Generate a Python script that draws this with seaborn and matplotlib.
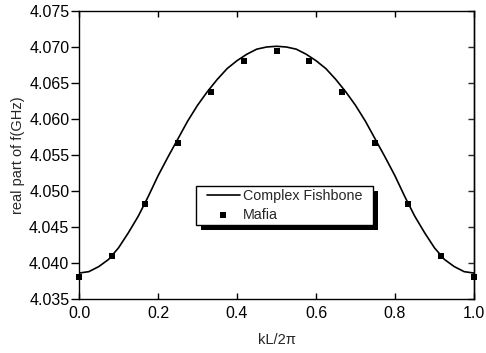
import matplotlib
matplotlib.use("Agg")
import matplotlib.pyplot as plt
import seaborn as sns
import pandas as pd
from matplotlib.patches import Rectangle

# Curve (Complex Fishbone)
curve_x = [0.000, 0.025, 0.050, 0.075, 0.100, 0.125, 0.150, 0.175, 0.200, 0.225,
           0.250, 0.275, 0.300, 0.325, 0.350, 0.375, 0.400, 0.425, 0.450, 0.475,
           0.500,
           0.525, 0.550, 0.575, 0.600, 0.625, 0.650, 0.675, 0.700, 0.725, 0.750,
           0.775, 0.800, 0.825, 0.850, 0.875, 0.900, 0.925, 0.950, 0.975, 1.000]
curve_y = [4.0386, 4.0388, 4.0395, 4.0405, 4.0421, 4.0442, 4.0465, 4.0492, 4.0521, 4.0547,
           4.0572, 4.0597, 4.0619, 4.0638, 4.0655, 4.0670, 4.0681, 4.0690, 4.0697, 4.0700,
           4.0701,
           4.0700, 4.0697, 4.0690, 4.0681, 4.0670, 4.0655, 4.0638, 4.0619, 4.0597, 4.0572,
           4.0547, 4.0521, 4.0492, 4.0465, 4.0442, 4.0421, 4.0405, 4.0395, 4.0388, 4.0386]

# Mafia points
mafia_x = [0.0, 1/12, 2/12, 3/12, 4/12, 5/12, 6/12, 7/12, 8/12, 9/12, 10/12, 11/12, 1.0]
mafia_y = [4.0380, 4.0410, 4.0482, 4.0567, 4.0637, 4.0680, 4.0695,
           4.0680, 4.0637, 4.0567, 4.0482, 4.0410, 4.0380]

x_ticks = [0.0, 0.2, 0.4, 0.6, 0.8, 1.0]
y_ticks = [4.035, 4.040, 4.045, 4.050, 4.055, 4.060, 4.065, 4.070, 4.075]

sns.set_style("ticks")
plt.rcParams['font.family'] = ['Liberation Sans', 'DejaVu Sans']

fig = plt.figure(figsize=(4.86, 3.53), dpi=100)
ax = fig.add_axes([79/486, 1 - 299/353, 395/486, 288/353])

df_c = pd.DataFrame({"x": curve_x, "y": curve_y})
df_m = pd.DataFrame({"x": mafia_x, "y": mafia_y})

sns.lineplot(data=df_c, x="x", y="y", ax=ax, color="black", linewidth=1.2,
             label="Complex Fishbone", sort=True, estimator=None)
sns.scatterplot(data=df_m, x="x", y="y", ax=ax, color="black", marker="s",
                s=20, linewidth=0, label="Mafia", zorder=3, clip_on=False)

ax.set_xlim(0, 1)
ax.set_ylim(4.035, 4.075)
ax.set_xticks(x_ticks)
ax.set_xticklabels([f"{v:.1f}" for v in x_ticks])
ax.set_yticks(y_ticks)
ax.set_yticklabels([f"{v:.3f}" for v in y_ticks])

for s in ax.spines.values():
    s.set_visible(True)
    s.set_linewidth(1.0)
    s.set_color("black")

ax.tick_params(axis="x", direction="in", length=4, width=1, top=True, bottom=True,
               labelsize=11.5, pad=5, colors="black")
ax.tick_params(axis="y", direction="out", length=6, width=1, left=True, right=False,
               labelsize=11.5, pad=1, colors="black")

sec = ax.secondary_yaxis("right")
sec.set_yticks(y_ticks)
sec.tick_params(direction="in", length=4, width=1, labelright=False)
sec.spines["right"].set_linewidth(1.0)

ax.set_xlabel("kL/2π", fontsize=10.5, labelpad=9)
ax.set_ylabel("real part of f(GHz)", fontsize=10.5, labelpad=3)

leg = ax.legend(loc="upper left", bbox_to_anchor=((207 - 79) / 395, (299 - 189) / 288),
                fontsize=10.3, frameon=False,
                handlelength=2.3, handletextpad=0.2, borderpad=0,
                labelspacing=0.35, borderaxespad=0, markerscale=1.0)
leg.set_zorder(7)

fig.canvas.draw()
bb = leg.get_window_extent()
inv = ax.transAxes.inverted()
pad_l, pad_r, pad_t, pad_b = 11, 11, 3, 3
(x0, y0) = inv.transform((bb.x0 - pad_l, bb.y0 - pad_b))
(x1, y1) = inv.transform((bb.x1 + pad_r, bb.y1 + pad_t))
off_x = 5 / 395
off_y = -5 / 288
ax.add_patch(Rectangle((x0 + off_x, y0 + off_y), x1 - x0, y1 - y0,
                       transform=ax.transAxes, facecolor="black", edgecolor="none",
                       zorder=5.8, clip_on=False))
ax.add_patch(Rectangle((x0, y0), x1 - x0, y1 - y0,
                       transform=ax.transAxes, facecolor="white", edgecolor="black",
                       linewidth=1.0, zorder=5.9, clip_on=False))

fig.savefig("out.png", dpi=100)
